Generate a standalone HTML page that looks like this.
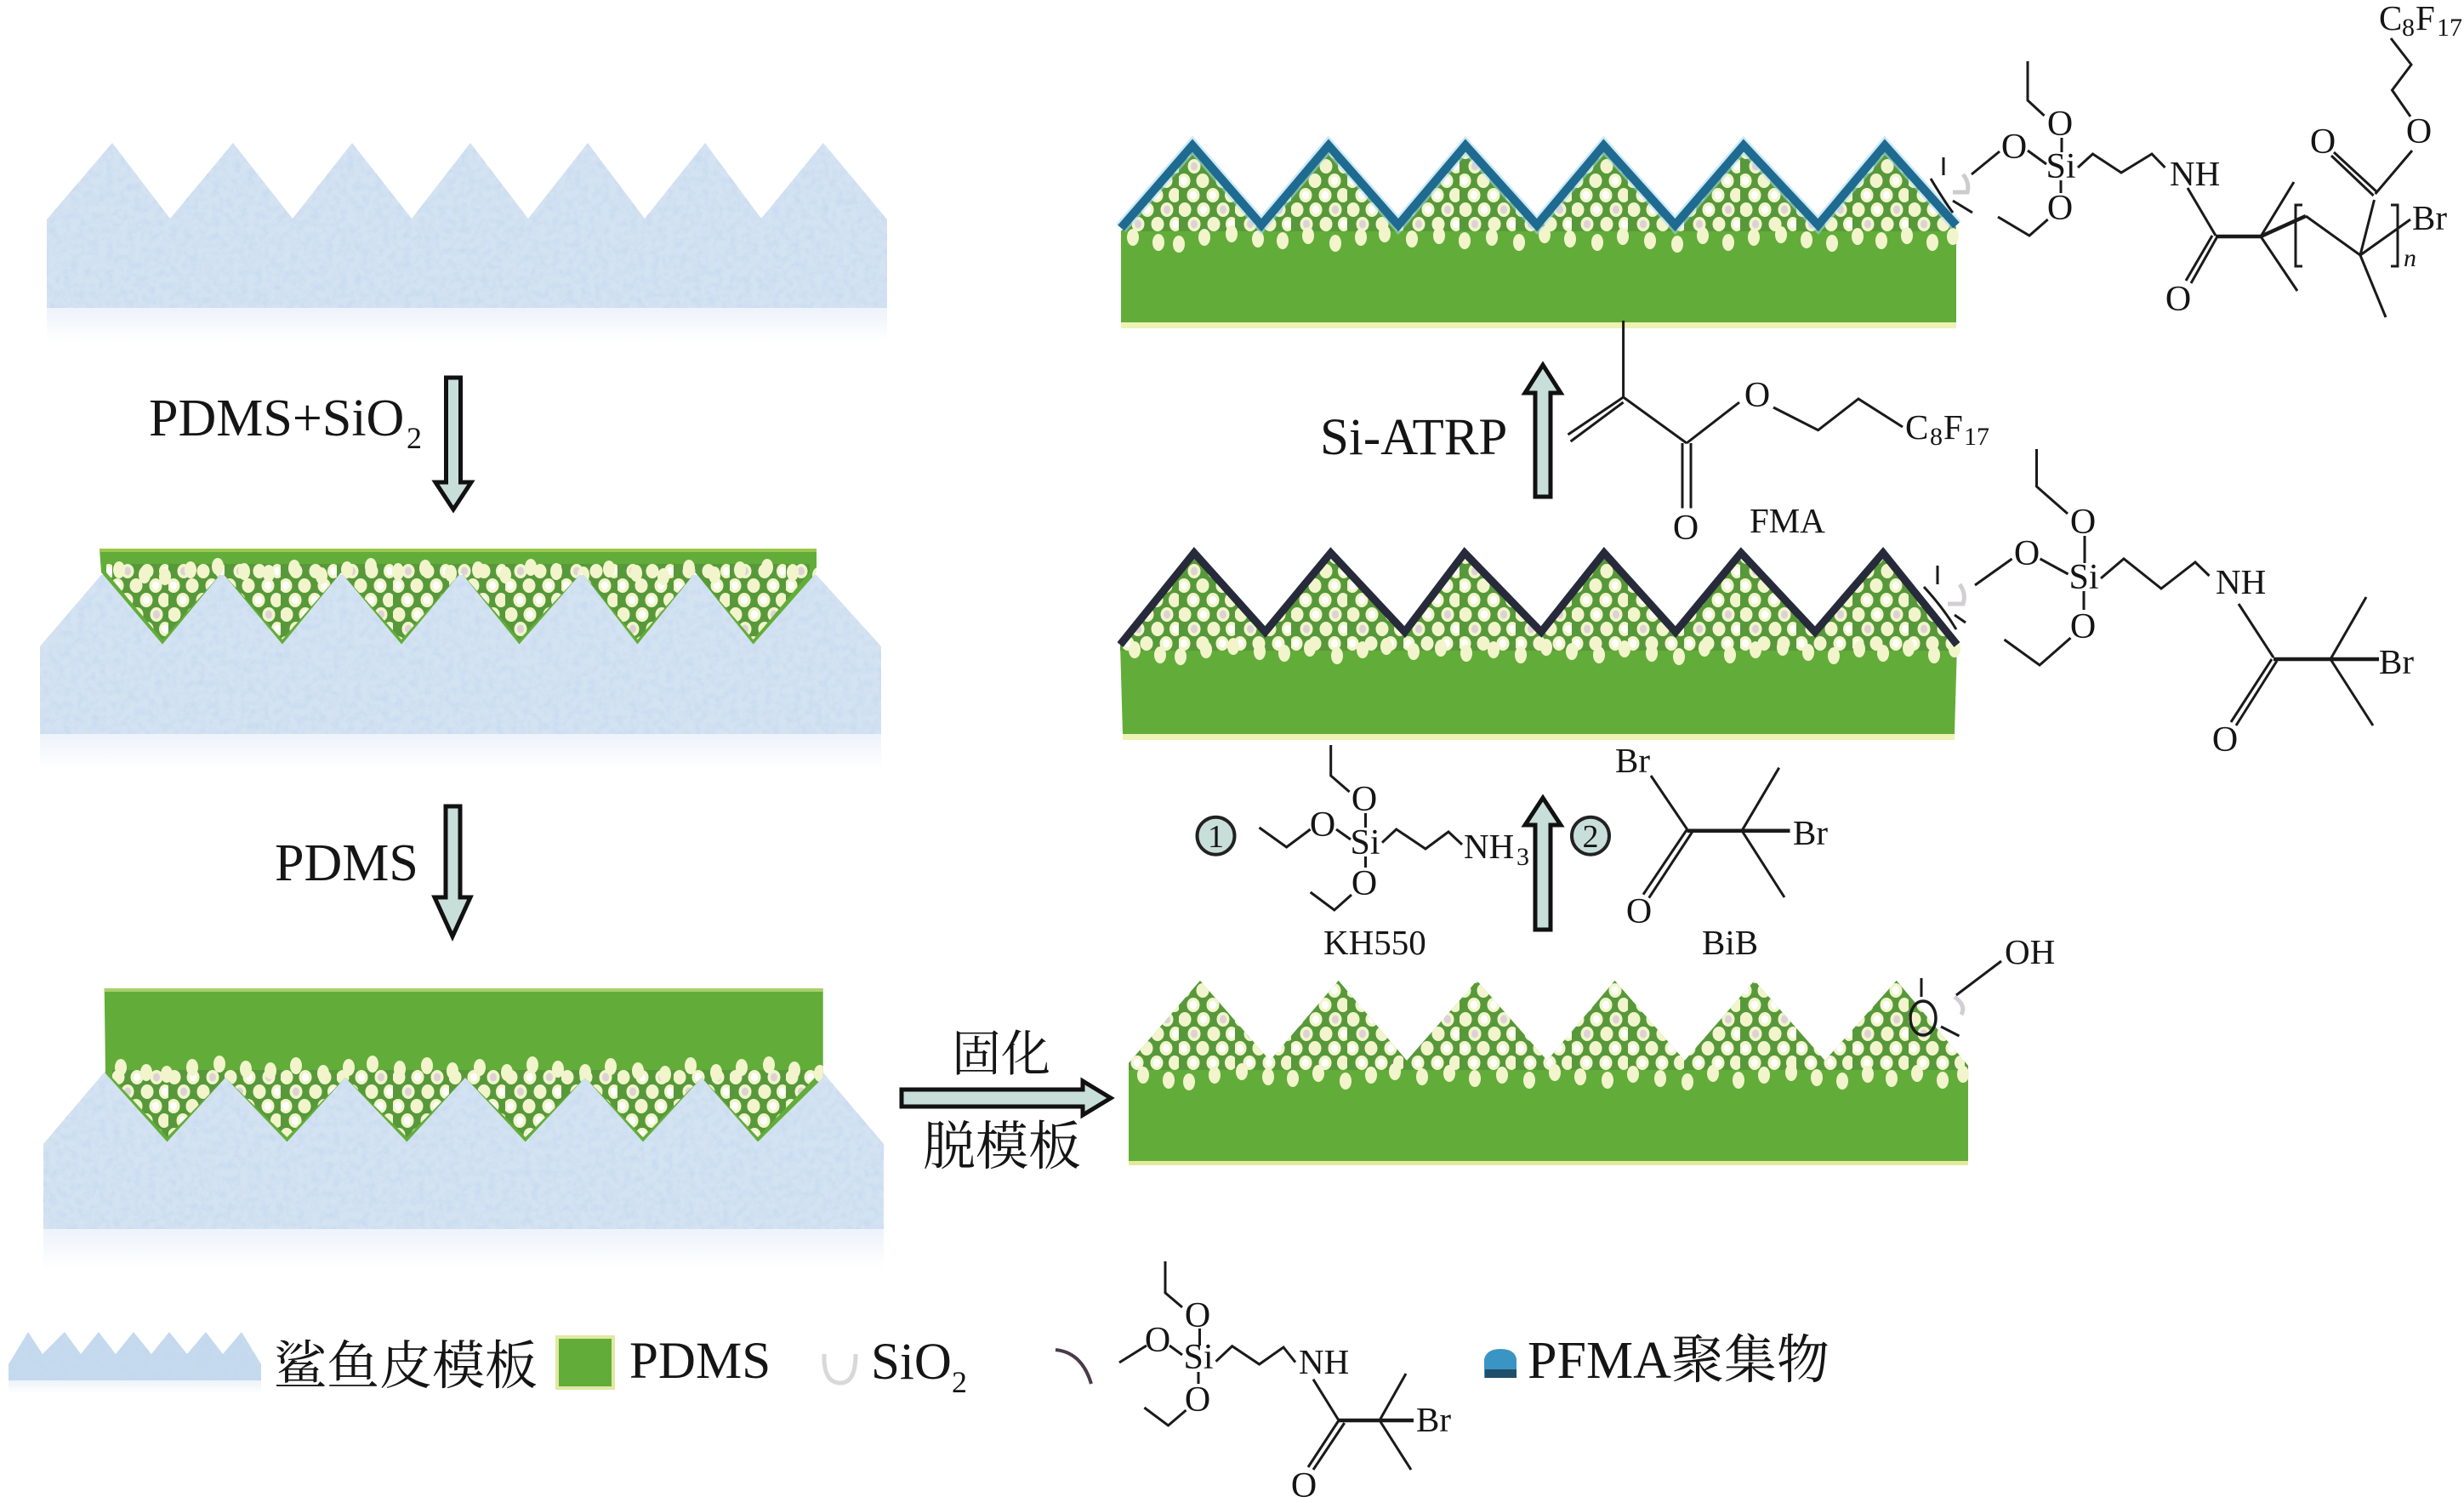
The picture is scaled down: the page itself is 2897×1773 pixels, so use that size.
<!DOCTYPE html>
<html><head><meta charset="utf-8"><style>
html,body{margin:0;padding:0;background:#fff}
svg{display:block}
text{font-family:"Liberation Serif","Noto Serif CJK SC",serif;fill:#151515}
.c{font-size:42px;text-anchor:middle}
.s{font-size:41px}
.b{font-size:62px}
.u{font-size:30px}
.bond{fill:none;stroke:#1a1a1a;stroke-width:3}
.thick{fill:none;stroke:#1a1a1a;stroke-width:4.5}
.arrow{fill:#c8dfd9;stroke:#111;stroke-width:5}
.tpl{fill:#d4e3f2;filter:url(#tex)}
.grn{fill:#62ad3a}
</style></head><body>
<svg xmlns="http://www.w3.org/2000/svg" width="2897" height="1773" viewBox="0 0 2897 1773">
<defs>
<filter id="tex" x="0" y="0" width="100%" height="100%" color-interpolation-filters="sRGB">
<feTurbulence type="fractalNoise" baseFrequency="0.12" numOctaves="3" seed="4" result="n"/>
<feColorMatrix in="n" type="matrix" values="0 0 0 0 .76  0 0 0 0 .84  0 0 0 0 .94  1.4 0 0 0 -.55" result="m"/>
<feComposite in="m" in2="SourceAlpha" operator="in" result="k"/>
<feMerge><feMergeNode in="SourceGraphic"/><feMergeNode in="k"/></feMerge>
</filter>
<linearGradient id="fade" x1="0" y1="0" x2="0" y2="1"><stop offset="0" stop-color="#edf3fa"/><stop offset="1" stop-color="#fff"/></linearGradient>
<pattern id="d" width="66" height="68" patternUnits="userSpaceOnUse">
<rect width="66" height="68" fill="#57993a"/>
<g fill="#f2f5cb">
<ellipse cx="6" cy="8.5" rx="7.5" ry="8.5"/><ellipse cx="28" cy="8.5" rx="7.5" ry="8.5"/><ellipse cx="51" cy="8.5" rx="7.5" ry="8.5"/>
<ellipse cx="17" cy="25.5" rx="7.5" ry="8.5"/><ellipse cx="40" cy="25.5" rx="7.5" ry="8.5"/><ellipse cx="61" cy="25.5" rx="7" ry="8.5"/>
<ellipse cx="7" cy="42.5" rx="7.5" ry="8.5"/><ellipse cx="29" cy="42.5" rx="7.5" ry="8.5"/><ellipse cx="52" cy="42.5" rx="7.5" ry="8.5"/>
<ellipse cx="18" cy="59.5" rx="7.5" ry="8.5"/><ellipse cx="41" cy="59.5" rx="7.5" ry="8.5"/><ellipse cx="62" cy="59.5" rx="7" ry="8.5"/>
</g>
<g fill="#fff">
<ellipse cx="6" cy="8.5" rx="4" ry="5"/><ellipse cx="40" cy="25.5" rx="4" ry="5"/><ellipse cx="29" cy="42.5" rx="4" ry="5"/><ellipse cx="51" cy="8.5" rx="4" ry="5"/><ellipse cx="17" cy="25.5" rx="4" ry="5"/><ellipse cx="62" cy="59.5" rx="4" ry="5"/>
</g>
<ellipse cx="52" cy="42.5" rx="4" ry="5" fill="#dcd2d6"/>
<ellipse cx="18" cy="59.5" rx="4" ry="5" fill="#dcd2d6"/>
</pattern>
<g id="row" fill="#f2f5cb">
<ellipse cx="8" cy="6" rx="7" ry="10"/><ellipse cx="38" cy="12" rx="7" ry="10"/><ellipse cx="62" cy="14" rx="7" ry="10"/><ellipse cx="92" cy="6" rx="7" ry="10"/><ellipse cx="124" cy="2" rx="7" ry="10"/><ellipse cx="155" cy="8" rx="7" ry="10"/><ellipse cx="184" cy="10" rx="7" ry="10"/><ellipse cx="214" cy="4" rx="7" ry="10"/><ellipse cx="246" cy="13" rx="7" ry="10"/><ellipse cx="276" cy="6" rx="7" ry="10"/><ellipse cx="304" cy="2" rx="7" ry="10"/><ellipse cx="336" cy="8" rx="7" ry="10"/><ellipse cx="368" cy="4" rx="7" ry="10"/><ellipse cx="398" cy="10" rx="7" ry="10"/><ellipse cx="430" cy="6" rx="7" ry="10"/><ellipse cx="462" cy="12" rx="7" ry="10"/><ellipse cx="492" cy="3" rx="7" ry="10"/><ellipse cx="522" cy="8" rx="7" ry="10"/><ellipse cx="554" cy="12" rx="7" ry="10"/><ellipse cx="584" cy="5" rx="7" ry="10"/><ellipse cx="616" cy="10" rx="7" ry="10"/><ellipse cx="648" cy="14" rx="7" ry="10"/><ellipse cx="678" cy="4" rx="7" ry="10"/><ellipse cx="708" cy="12" rx="7" ry="10"/><ellipse cx="738" cy="6" rx="7" ry="10"/><ellipse cx="770" cy="3" rx="7" ry="10"/><ellipse cx="800" cy="9" rx="7" ry="10"/><ellipse cx="830" cy="13" rx="7" ry="10"/><ellipse cx="860" cy="5" rx="7" ry="10"/><ellipse cx="888" cy="10" rx="7" ry="10"/><ellipse cx="918" cy="4" rx="7" ry="10"/><ellipse cx="948" cy="12" rx="7" ry="10"/><ellipse cx="972" cy="5" rx="7" ry="10"/>
</g>
<clipPath id="cl2"><polygon points="117,645 960,645 960,673 885.6,757.5 817.5,673 749.5,757.5 684,673 610.5,757.5 542,673 472,757.5 401,673 332,757.5 261,673 191,757.5 119,673"/></clipPath>
<clipPath id="cl3"><polygon points="122.7,1162 967.7,1162 967.7,1267 891,1342.5 825,1267 756,1342.5 688,1267 617.7,1342.5 547,1267 478.4,1342.5 406,1267 337.5,1342.5 265,1267 196.5,1342.5 124,1262"/></clipPath>
</defs>

<!-- left column -->
<rect x="55" y="362" width="988" height="40" fill="url(#fade)"/>
<polygon class="tpl" points="55,258 132,168 200,257 274,168 344,257 414,168 484,257 553,168 621,257 691,168 758,257 829,168 895,257 968,168 1043,258 1043,362 55,362"/>

<rect x="47" y="863" width="989" height="42" fill="url(#fade)"/>
<polygon class="tpl" points="47,760 119,676 960,676 1036,760 1036,863 47,863"/>
<polygon class="grn" points="117,645 960,645 960,673 885.6,757.5 817.5,673 749.5,757.5 684,673 610.5,757.5 542,673 472,757.5 401,673 332,757.5 261,673 191,757.5 119,673"/>
<polygon fill="url(#d)" points="125,663 952,663 952,673 885.6,752 817.5,673 749.5,752 684,673 610.5,752 542,673 472,752 401,673 332,752 261,673 191,752 125,673"/>
<rect x="117" y="645" width="843" height="4" fill="#9cc74f"/>
<g clip-path="url(#cl2)"><use href="#row" transform="translate(132,664)"/></g>

<rect x="51" y="1445" width="988" height="48" fill="url(#fade)"/>
<polygon class="tpl" points="51,1345 124,1259 966,1259 1039,1345 1039,1445 51,1445"/>
<polygon class="grn" points="122.7,1162 967.7,1162 967.7,1267 891,1342.5 825,1267 756,1342.5 688,1267 617.7,1342.5 547,1267 478.4,1342.5 406,1267 337.5,1342.5 265,1267 196.5,1342.5 124,1262"/>
<polygon fill="url(#d)" points="132,1258 958,1258 958,1267 891,1337 825,1267 756,1337 688,1267 617.7,1337 547,1267 478.4,1337 406,1267 337.5,1337 265,1267 196.5,1337 132,1267"/>
<rect x="122.7" y="1162" width="845" height="4" fill="#a9cf6c"/>
<g clip-path="url(#cl3)"><use href="#row" transform="translate(134,1249)"/></g>

<!-- left arrows -->
<polygon class="arrow" points="524.5,444 541.5,444 541.5,567 554,567 533,599 512,567 524.5,567"/>
<polygon class="arrow" points="524,948 541,948 541,1055 553,1055 532,1101 511,1055 524,1055"/>
<polygon class="arrow" points="1060,1281 1273,1281 1273,1271 1306,1291 1273,1311 1273,1301 1060,1301"/>

<text class="b" x="175" y="512">PDMS+SiO</text><text x="478" y="527" style="font-size:36px">2</text>
<text class="b" x="323" y="1035">PDMS</text>
<text x="1119" y="1259" style="font-size:58px">固化</text>
<text x="1085" y="1369" style="font-size:62px">脱模板</text>

<!-- right panel top -->
<rect x="1318" y="379" width="982" height="7" fill="#eef2b4"/>
<polygon class="grn" points="1318,268 1402,171 1483,264.6 1562,171 1644,264.6 1723,171 1807,264.6 1885.5,171 1969.5,264.6 2050,171 2137.6,264.6 2216,171 2300,265 2300,379 1318,379"/>
<polygon fill="url(#d)" points="1318,268 1402,171 1483,264.6 1562,171 1644,264.6 1723,171 1807,264.6 1885.5,171 1969.5,264.6 2050,171 2137.6,264.6 2216,171 2300,265 2300,272 1318,272"/>
<use href="#row" transform="translate(1324,273)"/>
<polyline points="1318,268 1402,171 1483,264.6 1562,171 1644,264.6 1723,171 1807,264.6 1885.5,171 1969.5,264.6 2050,171 2137.6,264.6 2216,171 2300,265" fill="none" stroke="#a3d8ee" stroke-width="15" opacity=".55"/>
<polyline points="1318,268 1402,171 1483,264.6 1562,171 1644,264.6 1723,171 1807,264.6 1885.5,171 1969.5,264.6 2050,171 2137.6,264.6 2216,171 2300,265" fill="none" stroke="#1f6a90" stroke-width="10"/>
<path d="M2285,185V206M2270,210Q2285,235 2296,250M2296,236L2319,250" class="bond"/>
<path d="M2308,205Q2316,215 2313,226L2296,226" fill="none" stroke="#ccc" stroke-width="5"/>

<!-- right panel mid -->
<rect x="1320" y="863" width="978" height="7" fill="#eef2b4"/>
<polygon class="grn" points="1317,758 1404,650 1487.5,743 1564.6,650 1651.6,743 1722,650 1812,743 1886,650 1970,743 2047,650 2134,743 2214,650 2301,758 2298,863 1320,863"/>
<polygon fill="url(#d)" points="1317,758 1404,650 1487.5,743 1564.6,650 1651.6,743 1722,650 1812,743 1886,650 1970,743 2047,650 2134,743 2214,650 2301,758 2301,765 1317,765"/>
<use href="#row" transform="translate(1326,758)"/>
<polyline points="1317,758 1404,650 1487.5,743 1564.6,650 1651.6,743 1722,650 1812,743 1886,650 1970,743 2047,650 2134,743 2214,650 2301,758" fill="none" stroke="#262a3a" stroke-width="9"/>
<path d="M2278,665V687M2262,690Q2285,715 2300,740M2298,723L2311,732" class="bond"/>
<path d="M2304,687Q2312,698 2308,710L2290,710" fill="none" stroke="#d5ccd5" stroke-width="5"/>

<!-- right panel bottom -->
<rect x="1327" y="1365" width="987" height="5" fill="#e4e89c"/>
<polygon class="grn" points="1327,1250 1411,1153 1493,1247 1573.7,1153 1654,1247 1736.5,1153 1819,1247 1898.6,1153 1980.7,1247 2062.8,1153 2145.6,1247 2229.8,1153 2314,1253 2314,1365 1327,1365"/>
<polygon fill="url(#d)" points="1327,1250 1411,1153 1493,1247 1573.7,1153 1654,1247 1736.5,1153 1819,1247 1898.6,1153 1980.7,1247 2062.8,1153 2145.6,1247 2229.8,1153 2314,1253 2314,1258 1327,1258"/>
<use href="#row" transform="translate(1336,1258)"/>
<path d="M2259,1150V1172M2282,1207L2303.5,1218" class="bond"/>
<ellipse cx="2261" cy="1197" rx="15" ry="20" fill="none" stroke="#1a1a1a" stroke-width="3.5"/>
<path d="M2298,1172Q2312,1182 2306,1193" fill="none" stroke="#d5ccd5" stroke-width="5"/>
<path d="M2353,1130L2300,1170" class="bond"/>
<text class="s" x="2357" y="1133">OH</text>

<!-- chem top -->
<path class="bond" d="M2384,72V118L2403.5,136M2424,162V179M2384,177L2406,193M2351,178L2318,205M2423,212V227M2349,255L2386,277L2407.7,258M2443,197L2460.5,181L2494,203L2530,181L2545.5,197M2572,221L2605,277M2607,278L2576,333M2601,277L2570,330M2658,278L2697,214M2658,278L2701,342M2711,254L2775,300L2791.5,235M2790.6,230L2741,183M2795,226L2744,179M2792.7,228L2836,177M2834,137L2812.5,106L2835,76L2811,45M2775,300L2834,258M2775,300L2805,373M2707,241H2699V313H2707M2811,241H2819V313H2811"/>
<path class="thick" d="M2605,278H2658L2711,254"/>
<text class="c" x="2422" y="159">O</text><text class="c" x="2368" y="186">O</text><text class="c" x="2423" y="209">Si</text><text class="c" x="2422" y="258">O</text>
<text class="s" x="2551" y="218">NH</text><text class="c" x="2561" y="365">O</text><text class="c" x="2731" y="180">O</text><text class="c" x="2844" y="168">O</text>
<text class="s" x="2797" y="35">C</text><text class="u" x="2824" y="42">8</text><text class="s" x="2840" y="35">F</text><text class="u" x="2865" y="42">17</text>
<text class="s" x="2836" y="270">Br</text><text class="u" x="2826" y="313" font-style="italic">n</text>

<!-- FMA -->
<path class="bond" d="M1908.6,377V467L1843.5,511M1908.6,473L1846.6,519M1908.6,467L1983,521M1978,521V597.5M1988,521V597.5M1983,521L2045,473M2085,479L2137.6,505.7L2185,469L2237,502"/>
<text class="c" x="1982" y="634">O</text><text class="c" x="2066" y="478">O</text>
<text class="s" x="2240" y="516">C</text><text class="u" x="2269" y="523">8</text><text class="s" x="2285" y="516">F</text><text class="u" x="2309" y="523">17</text>
<text class="s" x="2057" y="626">FMA</text>
<text x="1552" y="534" style="font-size:61px">Si-ATRP</text>
<polygon class="arrow" points="1805,584 1805,462 1793,462 1814,429 1835,462 1823,462 1823,584"/>

<!-- chem mid -->
<path class="bond" d="M2394.5,528V572L2431,604M2451,630V662M2398.6,657L2431.6,675M2365.6,657L2322,688M2450,695V717M2356.5,752L2398,782L2434.5,750M2470,680L2497,657L2541,692L2581,661L2597.5,677M2632,710L2673,773M2740,775L2782,702M2740,775L2790,853M2671,775L2623,849M2677,777L2629,853"/>
<path class="thick" d="M2673,775H2797"/>
<text class="c" x="2449" y="627">O</text><text class="c" x="2383" y="664">O</text><text class="c" x="2450" y="692">Si</text><text class="c" x="2449" y="750">O</text>
<text class="s" x="2605" y="698">NH</text><text class="c" x="2616" y="883">O</text><text class="s" x="2797" y="792">Br</text>

<!-- KH550 / BiB -->
<path class="bond" d="M1564.7,876V912L1586.6,931M1605.5,956V973M1571,975L1588,987M1480.5,973L1512.6,996L1540.7,975M1605.5,1007V1020M1540.7,1049L1568.8,1070L1589,1052M1625,990.7L1641.7,975L1676,998L1703,978L1719,993"/>
<text class="c" x="1604" y="953">O</text><text class="c" x="1555" y="983">O</text><text class="c" x="1605" y="1004">Si</text><text class="c" x="1604" y="1052">O</text>
<text class="s" x="1721" y="1009">NH</text><text class="u" x="1783" y="1017">3</text>
<circle cx="1429.5" cy="982.7" r="22" fill="#c8dfd9" stroke="#222" stroke-width="4"/><text class="c" x="1429.5" y="996" style="font-size:38px">1</text>
<circle cx="1870" cy="982.7" r="22" fill="#c8dfd9" stroke="#222" stroke-width="4"/><text class="c" x="1870" y="996" style="font-size:38px">2</text>
<polygon class="arrow" points="1805,1093 1805,970 1793,970 1814,938 1835,970 1823,970 1823,1093"/>
<path class="bond" d="M1941,912L1983.6,975M2048,976.7L2091.7,902.7M2048,976.7L2098,1055M1983.6,975L1932,1051.7M1989.7,978L1938.7,1055.7"/>
<path class="thick" d="M1983.6,976.7H2104.5"/>
<text class="s" x="1899" y="908">Br</text><text class="s" x="2108" y="993">Br</text><text class="c" x="1927" y="1085">O</text>
<text class="s" x="1556" y="1122">KH550</text><text class="s" x="2001" y="1122">BiB</text>

<!-- legend -->
<rect x="10" y="1623" width="297" height="16" fill="url(#fade)"/>
<polygon points="10,1604 33,1566 50,1592 76,1566 95,1592 116,1566 136,1592 157,1566 178,1592 199,1566 220,1592 242,1566 262,1592 284,1566 307,1604 307,1623 10,1623" fill="#c6daee" filter="url(#tex)"/>
<text x="322" y="1627" style="font-size:62px">鲨鱼皮模板</text>
<rect x="655" y="1572" width="66" height="60" fill="#62ad3a" stroke="#e2e8a2" stroke-width="4"/>
<text x="740" y="1620" style="font-size:61px">PDMS</text>
<path d="M969,1592Q968,1626 988,1626Q1006,1626 1006,1592" fill="none" stroke="#d8d8d8" stroke-width="5"/>
<text x="1024" y="1621" style="font-size:61px">SiO</text><text x="1119" y="1637" style="font-size:36px">2</text>
<path d="M1241,1587Q1272,1590 1283,1627" fill="none" stroke="#4a3a4a" stroke-width="4"/>
<path class="bond" d="M1370,1483V1520L1390,1537M1410.5,1562V1582M1375,1582L1390,1593M1316,1602L1348,1582M1409,1613V1627M1345.4,1655L1373.5,1676L1394.5,1658M1429.6,1600.7L1448.7,1582.7L1480.6,1604L1509,1584L1523,1601.7M1544,1621.7L1574,1670M1622,1670L1653,1615M1622,1670L1659,1728M1574,1670L1538,1725M1580.7,1673L1544,1728"/>
<path class="thick" d="M1574,1670H1662"/>
<text class="c" x="1408" y="1560">O</text><text class="c" x="1361" y="1589">O</text><text class="c" x="1409" y="1609">Si</text><text class="c" x="1408" y="1659">O</text>
<text class="s" x="1527" y="1615">NH</text><text class="s" x="1665" y="1683">Br</text><text class="c" x="1533" y="1760">O</text>
<path d="M1745,1620V1598Q1748,1586 1764,1586Q1781,1586 1783,1598V1620Z" fill="#3a95c4"/><rect x="1746" y="1610" width="37" height="10" fill="#1f4f6a"/>
<text x="1796" y="1620" style="font-size:62px">PFMA聚集物</text>
</svg>
</body></html>
